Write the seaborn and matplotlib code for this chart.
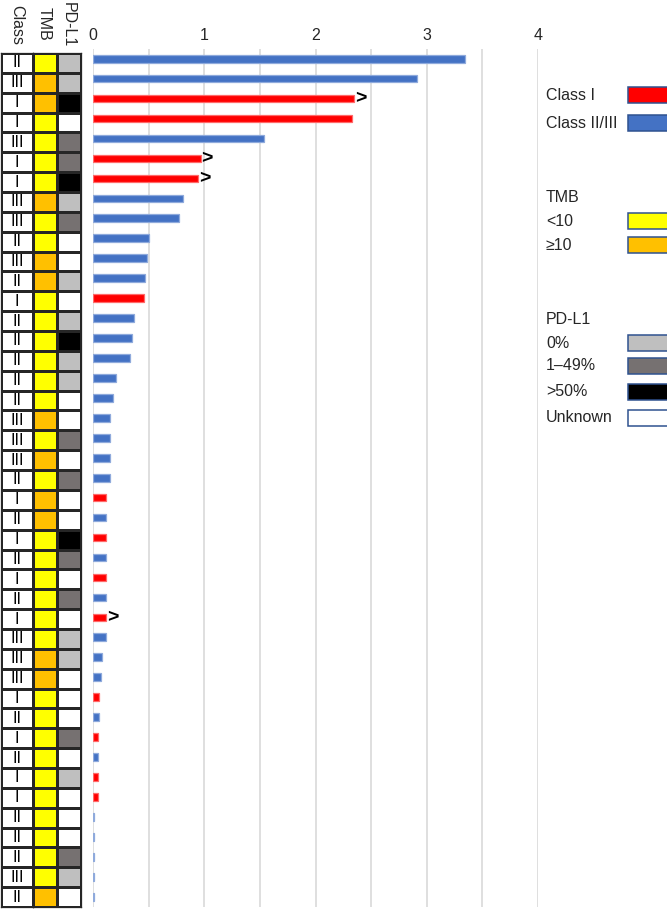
import numpy as np
import pandas as pd
import matplotlib
matplotlib.use("Agg")
import matplotlib.pyplot as plt
from matplotlib.colors import ListedColormap, to_hex
from matplotlib.patches import Rectangle
import seaborn as sns

# ---------------- data ----------------
classes = ["II", "III", "I", "I", "III", "I", "I", "III", "III", "II",
           "III", "II", "I", "II", "II", "II", "II", "II", "III", "III",
           "III", "II", "I", "II", "I", "II", "I", "II", "I", "III",
           "III", "III", "I", "II", "I", "II", "I", "I", "II", "II",
           "II", "III", "II"]
values = [3.35, 2.91, 2.35, 2.33, 1.535, 0.965, 0.945, 0.81, 0.775, 0.504,
          0.486, 0.465, 0.459, 0.37, 0.35, 0.33, 0.20, 0.18, 0.153, 0.153,
          0.153, 0.153, 0.114, 0.114, 0.114, 0.114, 0.114, 0.114, 0.114, 0.114,
          0.078, 0.066, 0.048, 0.048, 0.039, 0.039, 0.039, 0.039, 0.009, 0.009,
          0.009, 0.009, 0.009]
censored = [False, False, True, False, False, True, True, False, False, False,
            False, False, False, False, False, False, False, False, False, False,
            False, False, False, False, False, False, False, False, True, False,
            False, False, False, False, False, False, False, False, False, False,
            False, False, False]
tmb = ["<10", "≥10", "≥10", "<10", "<10", "<10", "<10", "≥10", "<10", "<10",
       "≥10", "≥10", "<10", "<10", "<10", "<10", "<10", "<10", "≥10", "<10",
       "≥10", "<10", "≥10", "≥10", "<10", "<10", "<10", "<10", "<10", "<10",
       "≥10", "≥10", "<10", "<10", "<10", "<10", "<10", "<10", "<10", "<10",
       "<10", "<10", "≥10"]
pdl1 = ["0%", "0%", ">50%", "Unknown", "1–49%", "1–49%", ">50%", "0%", "1–49%", "Unknown",
        "Unknown", "0%", "Unknown", "0%", ">50%", "0%", "0%", "Unknown", "Unknown", "1–49%",
        "Unknown", "1–49%", "Unknown", "Unknown", ">50%", "1–49%", "Unknown", "1–49%", "Unknown", "0%",
        "0%", "Unknown", "Unknown", "Unknown", "1–49%", "Unknown", "0%", "Unknown", "Unknown", "Unknown",
        "1–49%", "0%", "Unknown"]
x_ticks = [0, 1, 2, 3, 4]
class_groups = ["Class I", "Class II/III"]
tmb_levels = ["<10", "≥10"]
pdl1_levels = ["0%", "1–49%", ">50%", "Unknown"]

# ---------------- style ----------------
RED, BLUE = "#FF0000", "#4472C4"
EDGE = {"#ff0000": "#FF6A6A", "#4472c4": "#8FAADC"}
tmb_colors = {"<10": "#FFFF00", "≥10": "#FFC000"}
pdl1_colors = {"0%": "#BFBFBF", "1–49%": "#767171", ">50%": "#000000", "Unknown": "#FFFFFF"}

sns.set_theme(style="white")
plt.rcParams["font.family"] = ["Liberation Sans", "DejaVu Sans"]

W, H = 667, 910
fig = plt.figure(figsize=(W / 100, H / 100), dpi=100)


def px_axes(x0, y0, x1, y1):
    return fig.add_axes([x0 / W, 1 - y1 / H, (x1 - x0) / W, (y1 - y0) / H])


# ---------------- bar chart ----------------
n = len(values)
rows = [f"r{i}" for i in range(n)]
df = pd.DataFrame({
    "row": rows,
    "value": values,
    "group": ["Class I" if c == "I" else "Class II/III" for c in classes],
})
ax = px_axes(93.3, 48.7, 537.7, 906.7)
sns.barplot(data=df, x="value", y="row", hue="group", order=rows,
            palette={"Class I": RED, "Class II/III": BLUE},
            dodge=False, width=0.385, orient="h", legend=False, ax=ax,
            saturation=1, linewidth=0.9)
for p in ax.patches:
    fc = to_hex(p.get_facecolor()).lower()
    p.set_edgecolor(EDGE.get(fc, "#8FAADC"))
ax.set_xlim(0, 4)
ax.set_ylim(n - 0.5, -0.5)
ax.xaxis.tick_top()
ax.set_xticks(x_ticks)
ax.set_xticklabels([str(t) for t in x_ticks], fontsize=11.5)
ax.set_xticks(np.arange(0, 4.01, 0.5), minor=True)
ax.tick_params(axis="x", which="both", length=0, pad=4)
ax.set_yticks([])
ax.set_xlabel("")
ax.set_ylabel("")
ax.grid(axis="x", which="both", color="#D9D9D9", linewidth=1.2)
ax.set_axisbelow(True)
for s in ax.spines.values():
    s.set_visible(False)
for i, (v, c) in enumerate(zip(values, censored)):
    if c:
        ax.text(v + 0.01, i, ">", ha="left", va="center", fontsize=14,
                fontweight="bold", color="black")

# ---------------- annotation table ----------------
tab_top, tab_bot = 53, 907
LC = "#262626"
ax_c = px_axes(0.5, tab_top, 33, tab_bot)
sns.heatmap(np.zeros((n, 1)), cmap=ListedColormap(["#FFFFFF"]), cbar=False,
            annot=np.array(classes).reshape(-1, 1), fmt="",
            annot_kws={"fontsize": 11.5, "color": "black"},
            linewidths=1.0, linecolor=LC, ax=ax_c)
ax_c.set_xticks([]); ax_c.set_yticks([])

codes_cols = tmb_levels + pdl1_levels
cmap = ListedColormap([tmb_colors[k] for k in tmb_levels] + [pdl1_colors[k] for k in pdl1_levels])
mat = np.array([[codes_cols.index(t), codes_cols.index(p)] for t, p in zip(tmb, pdl1)])
ax_t = px_axes(33, tab_top, 80.5, tab_bot)
sns.heatmap(mat, cmap=cmap, vmin=-0.5, vmax=len(codes_cols) - 0.5, cbar=False,
            linewidths=1.0, linecolor=LC, ax=ax_t)
ax_t.set_xticks([]); ax_t.set_yticks([])
for a in (ax_c, ax_t):
    for s in a.spines.values():
        s.set_visible(True)
        s.set_color(LC)
        s.set_linewidth(0.9)

# ---------------- overlay: headers and legend ----------------
ov = fig.add_axes([0, 0, 1, 1], zorder=10)
ov.set_xlim(0, W); ov.set_ylim(H, 0); ov.axis("off")
ov.patch.set_alpha(0)
fs = 11.5
ov.text(17, 25, "Class", rotation=270, ha="center", va="center", fontsize=fs)
ov.text(44, 24, "TMB", rotation=270, ha="center", va="center", fontsize=fs)
ov.text(68, 2, "PD-L1", rotation=270, ha="center", va="top", fontsize=fs)

LX, BX0, BX1 = 546, 628, 670
box_edge = "#2F528F"


def leg_item(label, y, color):
    ov.text(LX, y, label, ha="left", va="center", fontsize=fs)
    ov.add_patch(Rectangle((BX0, y - 8), BX1 - BX0, 16, facecolor=color,
                           edgecolor=box_edge, linewidth=1.1, clip_on=False))


leg_item(class_groups[0], 95, RED)
leg_item(class_groups[1], 123, BLUE)
ov.text(LX, 197, "TMB", ha="left", va="center", fontsize=fs)
leg_item(tmb_levels[0], 221, tmb_colors[tmb_levels[0]])
leg_item(tmb_levels[1], 245, tmb_colors[tmb_levels[1]])
ov.text(LX, 319, "PD-L1", ha="left", va="center", fontsize=fs)
for lab, y in zip(pdl1_levels, [343, 366, 392, 418]):
    leg_item(lab, y, pdl1_colors[lab])

fig.savefig("out.png", dpi=100)
